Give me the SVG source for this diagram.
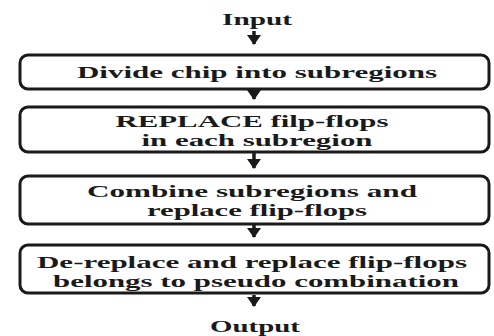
<svg xmlns="http://www.w3.org/2000/svg" width="494" height="336" viewBox="0 0 494 336">
<style>
.box{fill:#fff;stroke:#1a1a1a;stroke-width:3}
.t{font-family:"Liberation Serif","Times New Roman",serif;font-weight:bold;font-size:17px;fill:#1a1a1a;text-anchor:middle}
.c{stroke:#1a1a1a;stroke-width:3.5;fill:none}
</style>
<defs>
<marker id="ah" markerUnits="userSpaceOnUse" markerWidth="10" markerHeight="14" refX="9" refY="7" orient="auto" viewBox="0 0 10 14">
<path d="M0,0 L10,7 L0,14 Z" fill="#1a1a1a"/>
</marker>
</defs>
<rect width="494" height="336" fill="#fff"/>
<g id="connectors">
<path class="c" d="M254,31 V44" marker-end="url(#ah)"/>
<path class="c" d="M254,90 V99" marker-end="url(#ah)"/>
<path class="c" d="M254,153 V168" marker-end="url(#ah)"/>
<path class="c" d="M254,225 V237" marker-end="url(#ah)"/>
<path class="c" d="M254,295 V306" marker-end="url(#ah)"/>
</g>
<g id="input"><text class="t" x="257" y="25" textLength="70" lengthAdjust="spacingAndGlyphs">Input</text></g>
<g id="divide">
<rect class="box" x="20" y="55" width="469" height="34" rx="8"/>
<text class="t" x="257" y="78" textLength="360" lengthAdjust="spacingAndGlyphs">Divide chip into subregions</text>
</g>
<g id="replace">
<rect class="box" x="20" y="107" width="469" height="45" rx="8"/>
<text class="t" x="252" y="127" textLength="273" lengthAdjust="spacingAndGlyphs">REPLACE filp-flops</text>
<text class="t" x="257" y="146" textLength="231" lengthAdjust="spacingAndGlyphs">in each subregion</text>
</g>
<g id="combine">
<rect class="box" x="20" y="176" width="469" height="48" rx="8"/>
<text class="t" x="252" y="197" textLength="330" lengthAdjust="spacingAndGlyphs">Combine subregions and</text>
<text class="t" x="257" y="216" textLength="220" lengthAdjust="spacingAndGlyphs">replace flip-flops</text>
</g>
<g id="dereplace">
<rect class="box" x="20" y="245" width="469" height="48" rx="8"/>
<text class="t" x="252" y="268" textLength="430" lengthAdjust="spacingAndGlyphs">De-replace and replace flip-flops</text>
<text class="t" x="256" y="287" textLength="406" lengthAdjust="spacingAndGlyphs">belongs to pseudo combination</text>
</g>
<g id="output"><text class="t" x="255" y="332" textLength="90" lengthAdjust="spacingAndGlyphs">Output</text></g>
</svg>
